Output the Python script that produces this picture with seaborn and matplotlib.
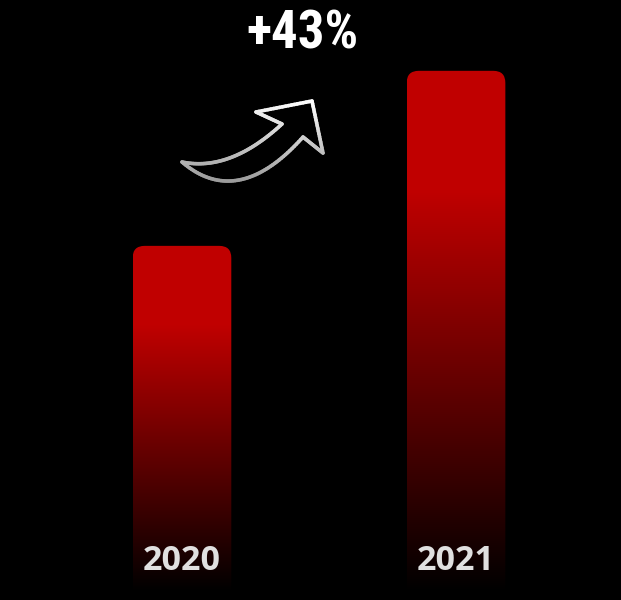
import numpy as np
import pandas as pd
import matplotlib
matplotlib.use("Agg")
import matplotlib.pyplot as plt
import seaborn as sns
from matplotlib.patches import FancyBboxPatch
from matplotlib.collections import LineCollection
from matplotlib import font_manager as fm

# ---- data ----
years = ["2020", "2021"]
values = [100, 143]
growth_label = "+43%"

sns.set_theme(style="white")
plt.rcParams['font.family'] = ['Open Sans', 'DejaVu Sans']

W, H = 621, 600
fig = plt.figure(figsize=(W / 100, H / 100), dpi=100, facecolor='black')
ax = fig.add_axes([0, 0, 1, 1])
ax.set_facecolor('black')

df = pd.DataFrame({"year": years, "value": values})
sns.barplot(data=df, x="year", y="value", ax=ax, width=0.36, color="#c00000")
ax.set_xlim(-0.664, 1.602)
ax.set_ylim(13, 160.4)
ax.axis('off')

p0 = ax.transData.transform((0, 0))
p1 = ax.transData.transform((1, 1))
px_per_x = p1[0] - p0[0]
px_per_y = p1[1] - p0[1]
radius_px = 12
fade_end = 15.0

for patch, year in zip(ax.patches, years):
    x0 = patch.get_x()
    w = patch.get_width()
    h = patch.get_height()
    patch.set_visible(False)
    rp = FancyBboxPatch((x0, 0), w, h,
                        boxstyle=f"round,pad=0,rounding_size={radius_px / px_per_x}",
                        mutation_aspect=px_per_x / px_per_y,
                        facecolor='none', edgecolor='none')
    ax.add_patch(rp)
    N = 400
    yv = np.linspace(0, h, N)
    t = (h - yv) / (h - fade_end)
    inten = np.clip((1 - t) / 0.77, 0, 1)
    img = np.zeros((N, 2, 3))
    img[:, :, 0] = (0.753 * inten)[:, None]
    im = ax.imshow(img, extent=[x0, x0 + w, 0, h], origin='lower',
                   aspect='auto', zorder=2, interpolation='bilinear')
    im.set_clip_path(rp)
    cx = x0 + w / 2
    ax.text(cx, 22.6, year, ha='center', va='center', color='#e0e0e0',
            fontsize=24.5, fontweight='bold', zorder=5)

# ---- growth label (condensed font if available) ----
names = {f.name for f in fm.fontManager.ttflist}
cond = [n for n in ['Liberation Sans Narrow', 'DejaVu Sans Condensed', 'Roboto Condensed',
                    'Open Sans Condensed'] if n in names]
fam = cond[:1] + ['DejaVu Sans']
fig.text(302 / W, 1 - 34 / H, growth_label, ha='center', va='center',
         color='white', fontsize=38, fontweight='bold', fontstretch='condensed',
         family=fam)

# ---- curved arrow (decoration, pixel coords) ----
ax2 = fig.add_axes([0, 0, 1, 1])
ax2.set_xlim(0, W)
ax2.set_ylim(H, 0)
ax2.axis('off')
ax2.patch.set_alpha(0)


def quad(a, c, b, n=60):
    tt = np.linspace(0, 1, n)[:, None]
    a, c, b = map(np.array, (a, c, b))
    return (1 - tt) ** 2 * a + 2 * (1 - tt) * tt * c + tt ** 2 * b


def seg(a, b, n=20):
    tt = np.linspace(0, 1, n)[:, None]
    return (1 - tt) * np.array(a) + tt * np.array(b)


tail = (182, 162)
inner = (303, 137)
outer = (323, 153)
tip = (312, 101)
upper = (256, 112)
notch = (282, 124)
pts = np.vstack([
    quad(tail, (238, 210), inner),
    seg(inner, outer),
    seg(outer, tip),
    seg(tip, upper),
    seg(upper, notch),
    quad(notch, (230, 172), tail),
])
ax2.fill(pts[:, 0], pts[:, 1], color='black', zorder=1)
segs = np.stack([pts[:-1], pts[1:]], axis=1)
ymid = segs[:, :, 1].mean(axis=1)
g = np.clip(1 - (ymid - 100) / 83 * 0.4, 0.55, 1)
cols = np.stack([g, g, g, np.ones_like(g)], axis=1)
lc = LineCollection(segs, colors=cols, linewidths=2.6, capstyle='round',
                    joinstyle='round', zorder=2)
ax2.add_collection(lc)

fig.savefig("out.png", dpi=100, facecolor='black')
